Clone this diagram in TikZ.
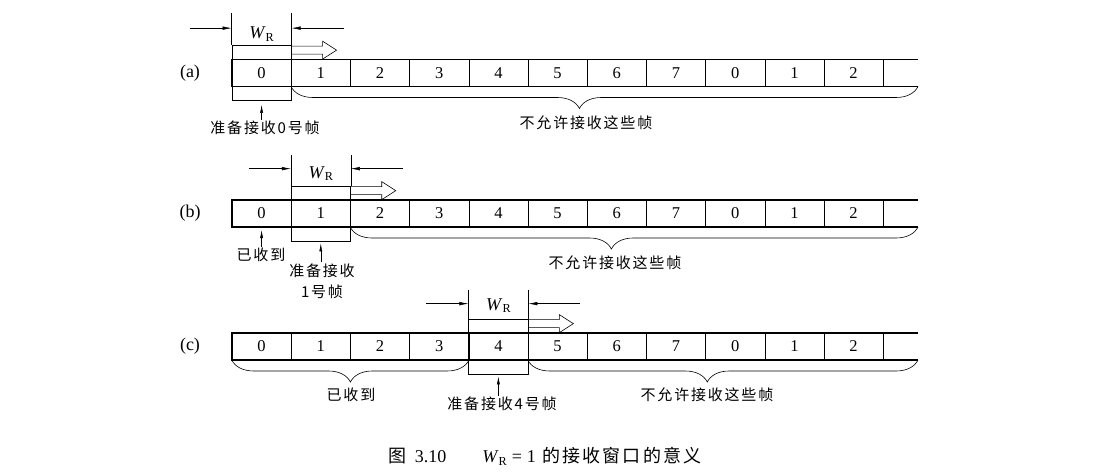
\documentclass[tikz,border=0pt]{standalone}
\usepackage{fontspec}
\usepackage{graphicx}
\setmainfont{Liberation Serif}
\newfontfamily\cjk{Noto Sans CJK SC}[LetterSpace=12]
\usetikzlibrary{arrows.meta,decorations.pathreplacing}

\newcommand\WR{\textit{W}\raisebox{-0.35ex}{\scalebox{0.68}{R}}}

\tikzset{
  celda/.style={draw, line width=0.5pt, minimum width=59.2pt, minimum height=26.5pt, inner sep=0pt, font=\fontsize{16.5}{18}\selectfont},
  ventana/.style={draw, line width=0.7pt, minimum width=59.2pt, minimum height=55pt, inner sep=0pt},
  etiqueta/.style={font=\cjk\fontsize{15}{21}\selectfont, align=center, inner sep=1pt},
  texto/.style={font=\fontsize{18}{20}\selectfont, inner sep=1pt},
  cota/.style={-{Latex[length=9pt,width=3.5pt]}, line width=0.5pt},
  senal/.style={-{Latex[length=8pt,width=3pt]}, line width=0.5pt},
  hueca/.style={line width=0.6pt},
  llave/.style={decorate, decoration={brace, mirror, amplitude=22pt, aspect=0.46}, line width=0.6pt},
  tira/.style={line width=1.2pt},
}

\begin{document}
\begin{tikzpicture}[x=1pt, y=-1pt]
    \useasboundingbox (0,0) rectangle (1105,476);
    % Fila (a)
    \node[texto] (la) at (190,73) {(a)};
    \foreach \t [count=\i from 0] in {0,1,2,3,4,5,6,7,0,1,2}
        \node[celda] (a\i) at ({261.6+59.2*\i},73) {\t};
    \coordinate (afin) at (918,73);
    \draw[tira] (afin |- a0.north) -- (a0.north west) -- (a0.south west) -- (afin |- a0.south);
    \node[ventana] (wa) at (a0) {};
    % Ventana (a)
    \coordinate (wa1) at ([yshift=32pt]wa.north west);
    \coordinate (wa2) at ([yshift=32pt]wa.north east);
    \draw[line width=0.5pt] (wa.north west) -- (wa1) (wa.north east) -- (wa2);
    \node[texto] (wra) at ([yshift=11pt]wa.north) {\WR};
    \coordinate (ia) at ([xshift=-42pt,yshift=17pt]wa.north west);
    \coordinate (da) at ([xshift=52pt,yshift=17pt]wa.north east);
    \draw[cota] (ia) -- (ia -| wa.west);
    \draw[cota] (da) -- (da -| wa.east);
    \draw[hueca] ([yshift=-1pt]wa.north east) -- ++(31pt,0pt) -- ++(0pt,5pt) -- ++(14pt,-9pt) -- ++(-14pt,-9pt) -- ++(0pt,5pt) -- ++(-31pt,0pt);
    % Llave y etiquetas (a)
    \draw[llave] (a1.south west) -- (afin |- a0.south);
    \node[etiqueta] (na) at (586,123) {不允许接收这些帧};
    \node[etiqueta] (ra) at (265,128) {准备接收0号帧};
    \draw[senal, shorten >=4pt] (wa.south |- ra.north) -- (wa.south);

    % Fila (b)
    \node[texto] (lb) at (190,213.5) {(b)};
    \foreach \t [count=\i from 0] in {0,1,2,3,4,5,6,7,0,1,2}
        \node[celda] (b\i) at ({261.6+59.2*\i},213.5) {\t};
    \coordinate (bfin) at (918,213.5);
    \draw[tira] (bfin |- b0.north) -- (b0.north west) -- (b0.south west) -- (bfin |- b0.south);
    \node[ventana] (wb) at (b1) {};
    % Ventana (b)
    \coordinate (wb1) at ([yshift=31pt]wb.north west);
    \coordinate (wb2) at ([yshift=31pt]wb.north east);
    \draw[line width=0.5pt] (wb.north west) -- (wb1) (wb.north east) -- (wb2);
    \node[texto] (wrb) at ([yshift=12pt]wb.north) {\WR};
    \coordinate (ib) at ([xshift=-42pt,yshift=17pt]wb.north west);
    \coordinate (db) at ([xshift=52pt,yshift=17pt]wb.north east);
    \draw[cota] (ib) -- (ib -| wb.west);
    \draw[cota] (db) -- (db -| wb.east);
    \draw[hueca] ([yshift=-1pt]wb.north east) -- ++(31pt,0pt) -- ++(0pt,5pt) -- ++(14pt,-9pt) -- ++(-14pt,-9pt) -- ++(0pt,5pt) -- ++(-31pt,0pt);
    % Llave y etiquetas (b)
    \draw[llave] (b2.south west) -- (bfin |- b0.south);
    \node[etiqueta] (nb) at (615,263) {不允许接收这些帧};
    \node[etiqueta] (rb) at (261,255) {已收到};
    \draw[senal, shorten >=3pt] (b0.south |- rb.north) -- (b0.south);
    \node[etiqueta] (sb) at (322,281) {准备接收\\1号帧};
    \draw[senal, shorten >=2pt] (wb.south |- sb.north) -- (wb.south);

    % Fila (c)
    \node[texto] (lc) at (190,346.5) {(c)};
    \foreach \t [count=\i from 0] in {0,1,2,3,4,5,6,7,0,1,2}
        \node[celda] (c\i) at ({261.6+59.2*\i},346.5) {\t};
    \coordinate (cfin) at (918,346.5);
    \draw[tira] (cfin |- c0.north) -- (c0.north west) -- (c0.south west) -- (cfin |- c0.south);
    \node[ventana] (wc) at (c4) {};
    % Ventana (c)
    \coordinate (wc1) at ([yshift=29pt]wc.north west);
    \coordinate (wc2) at ([yshift=29pt]wc.north east);
    \draw[line width=0.5pt] (wc.north west) -- (wc1) (wc.north east) -- (wc2);
    \node[texto] (wrc) at ([yshift=13pt]wc.north) {\WR};
    \coordinate (ic) at ([xshift=-42pt,yshift=15pt]wc.north west);
    \coordinate (dc) at ([xshift=52pt,yshift=15pt]wc.north east);
    \draw[cota] (ic) -- (ic -| wc.west);
    \draw[cota] (dc) -- (dc -| wc.east);
    \draw[hueca] ([yshift=-1pt]wc.north east) -- ++(31pt,0pt) -- ++(0pt,5pt) -- ++(14pt,-9pt) -- ++(-14pt,-9pt) -- ++(0pt,5pt) -- ++(-31pt,0pt);
    % Llaves y etiquetas (c)
    \draw[llave, decoration={aspect=0.5}] (c0.south west) -- (c3.south east);
    \draw[llave] (c5.south west) -- (cfin |- c0.south);
    \node[etiqueta] (nc) at (351,395) {已收到};
    \node[etiqueta] (mc) at (707,395) {不允许接收这些帧};
    \node[etiqueta] (rc) at (502,404) {准备接收4号帧};
    \draw[senal, shorten >=2pt] (wc.south |- rc.north) -- (wc.south);

    % Pie
    \node[texto, font=\fontsize{18}{20}\selectfont] (pie) at (545,456) {{\cjk 图}\hspace{0.45em}3.10\hspace{2em}\WR\;=\;1\hspace{0.35em}{\cjk 的接收窗口的意义}};
\end{tikzpicture}
\end{document}
